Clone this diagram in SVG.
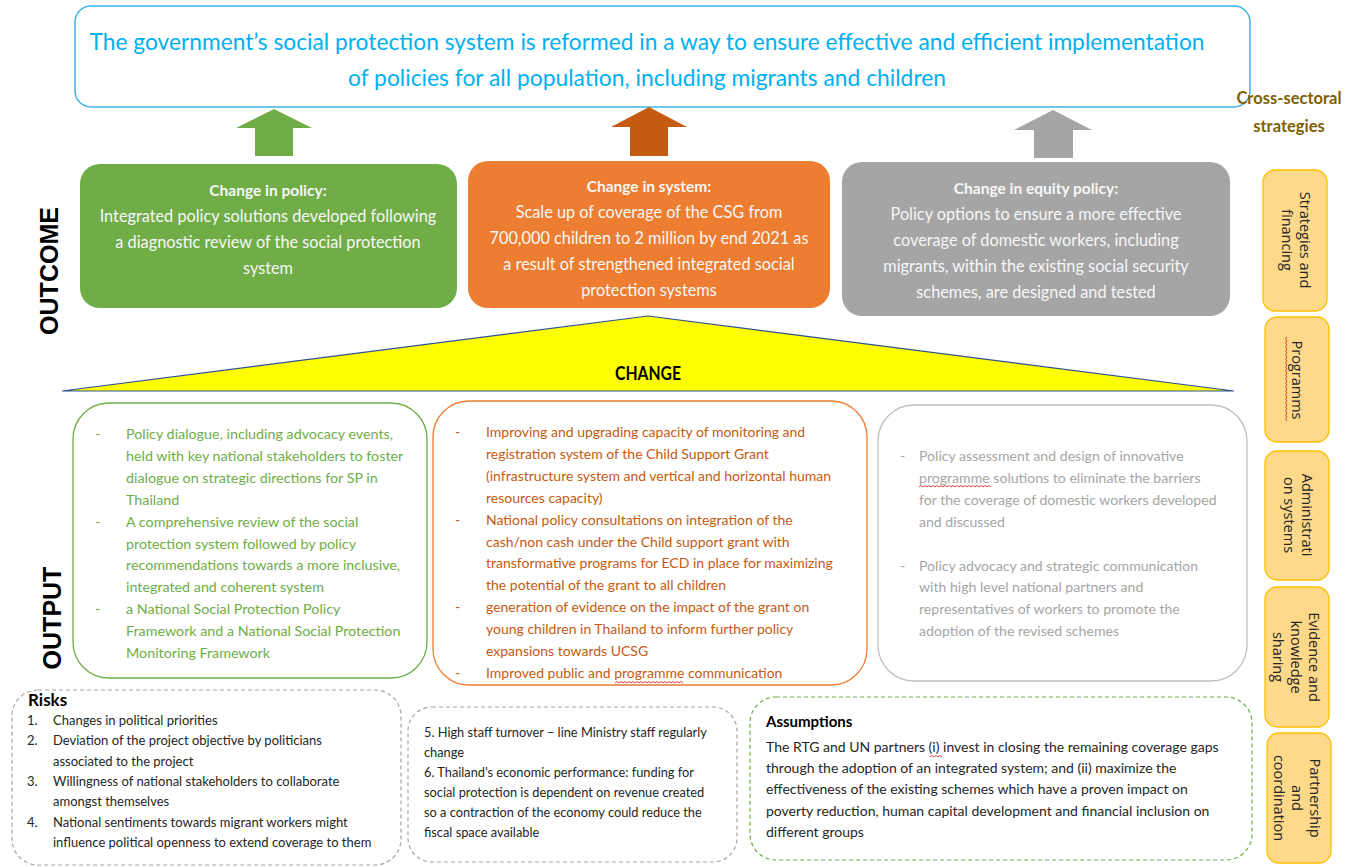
<svg xmlns="http://www.w3.org/2000/svg" width="1360" height="867" viewBox="0 0 1360 867">
<defs>
<style>
text{font-family:Lato,"Liberation Sans",sans-serif;}
.title{font-size:24px;fill:#00b0f0;text-anchor:middle;}
.oc{font-size:16.3px;fill:#f7f7f7;text-anchor:middle;}
.och{font-size:15.5px;font-weight:bold;fill:#f7f7f7;text-anchor:middle;}
.vlab{font-family:"Liberation Sans",Arial,sans-serif;font-size:25px;font-weight:bold;fill:#000;text-anchor:middle;}
.og{font-size:14.3px;fill:#70ad47;}
.oo{font-size:14px;fill:#c55a11;}
.oy{font-size:14.1px;fill:#a6a6a6;}
.rk{font-size:13px;fill:#262626;}
.rk2{font-size:12.8px;fill:#262626;}
.as{font-size:14px;fill:#262626;}
.ah{font-size:15px;font-weight:bold;fill:#000;}
.rh{font-size:17px;font-weight:bold;fill:#000;}
.cs{font-size:16.5px;font-weight:bold;fill:#7f6000;text-anchor:middle;}
.sb{fill:#ffd98a;stroke:#ffc000;stroke-width:1.3;}
.st{font-family:"Open Sans","Liberation Sans",sans-serif;font-size:14.5px;fill:#262626;text-anchor:middle;}
.dash{fill:none;stroke:#a6a6a6;stroke-width:1.2;stroke-dasharray:4 3;}
.squig{fill:none;stroke:#e03030;stroke-width:0.9;}
</style>
</defs>

<g id="goal">
<rect x="75" y="6" width="1175" height="101" rx="16" fill="#fff" stroke="#3cb4e8" stroke-width="1.5"/>
<text class="title" x="647" y="50" textLength="1115" lengthAdjust="spacingAndGlyphs">The government’s social protection system is reformed in a way to ensure effective and efficient implementation</text>
<text class="title" x="647" y="86" textLength="598" lengthAdjust="spacingAndGlyphs">of policies for all population, including migrants and children</text>
</g>

<g id="connectors">
<polygon points="274,109 312,128 293,128 293,156 255,156 255,128 236,128" fill="#70ad47"/>
<polygon points="649,107 687,127 668,127 668,156 630,156 630,127 611,127" fill="#c55a11"/>
<polygon points="1053,110 1092,130 1073,130 1073,158 1034,158 1034,130 1014,130" fill="#a5a5a5"/>
</g>

<g id="label-outcome">
<text class="vlab" transform="translate(58,271) rotate(-90)">OUTCOME</text>
</g>
<g id="label-output">
<text class="vlab" transform="translate(61,618) rotate(-90)">OUTPUT</text>
</g>

<g id="outcome-policy">
<rect x="80" y="164" width="377" height="144" rx="20" fill="#70ad47"/>
<text class="och" x="268" y="196">Change in policy:</text>
<text class="oc" x="268" y="222">Integrated policy solutions developed following</text>
<text class="oc" x="268" y="248">a diagnostic review of the social protection</text>
<text class="oc" x="268" y="274">system</text>
</g>

<g id="outcome-system">
<rect x="468" y="161" width="362" height="147" rx="20" fill="#ed7d31"/>
<text class="och" x="649" y="192">Change in system:</text>
<text class="oc" x="649" y="218">Scale up of coverage of the CSG from</text>
<text class="oc" x="649" y="244">700,000 children to 2 million by end 2021 as</text>
<text class="oc" x="649" y="270">a result of strengthened integrated social</text>
<text class="oc" x="649" y="296">protection systems</text>
</g>

<g id="outcome-equity">
<rect x="842" y="162" width="388" height="154" rx="20" fill="#a5a5a5"/>
<text class="och" x="1036" y="194">Change in equity policy:</text>
<text class="oc" x="1036" y="220">Policy options to ensure a more effective</text>
<text class="oc" x="1036" y="246">coverage of domestic workers, including</text>
<text class="oc" x="1036" y="272">migrants, within the existing social security</text>
<text class="oc" x="1036" y="298">schemes, are designed and tested</text>
</g>

<g id="change">
<polygon points="62,391 648,316 1234,391" fill="#ffff00" stroke="#2f528f" stroke-width="1.2"/>
<text x="648" y="380" font-family="'Liberation Sans',Arial,sans-serif" font-size="19" font-weight="bold" text-anchor="middle" textLength="66" lengthAdjust="spacingAndGlyphs">CHANGE</text>
</g>

<g id="output-policy">
<rect x="73" y="403" width="354" height="275" rx="36" fill="none" stroke="#70ad47" stroke-width="1.3"/>
<text class="og" x="95" y="439">-</text>
<text class="og" x="95" y="526.6">-</text>
<text class="og" x="95" y="614.2">-</text>
<text class="og" x="126" y="439">Policy dialogue, including advocacy events,</text>
<text class="og" x="126" y="460.9">held with key national stakeholders to foster</text>
<text class="og" x="126" y="482.8">dialogue on strategic directions for SP in</text>
<text class="og" x="126" y="504.7">Thailand</text>
<text class="og" x="126" y="526.6">A comprehensive review of the social</text>
<text class="og" x="126" y="548.5">protection system followed by policy</text>
<text class="og" x="126" y="570.4">recommendations towards a more inclusive,</text>
<text class="og" x="126" y="592.3">integrated and coherent system</text>
<text class="og" x="126" y="614.2">a National Social Protection Policy</text>
<text class="og" x="126" y="636.1">Framework and a National Social Protection</text>
<text class="og" x="126" y="658">Monitoring Framework</text>
</g>

<g id="output-system">
<rect x="433" y="401" width="434" height="284" rx="36" fill="none" stroke="#ed7d31" stroke-width="1.3"/>
<text class="oo" x="455" y="437">-</text>
<text class="oo" x="455" y="524.6">-</text>
<text class="oo" x="455" y="612.2">-</text>
<text class="oo" x="455" y="677.9">-</text>
<text class="oo" x="486" y="437">Improving and upgrading capacity of monitoring and</text>
<text class="oo" x="486" y="458.9">registration system of the Child Support Grant</text>
<text class="oo" x="486" y="480.8">(infrastructure system and vertical and horizontal human</text>
<text class="oo" x="486" y="502.7">resources capacity)</text>
<text class="oo" x="486" y="524.6">National policy consultations on integration of the</text>
<text class="oo" x="486" y="546.5">cash/non cash under the Child support grant with</text>
<text class="oo" x="486" y="568.4">transformative programs for ECD in place for maximizing</text>
<text class="oo" x="486" y="590.3">the potential of the grant to all children</text>
<text class="oo" x="486" y="612.2">generation of evidence on the impact of the grant on</text>
<text class="oo" x="486" y="634.1">young children in Thailand to inform further policy</text>
<text class="oo" x="486" y="656">expansions towards UCSG</text>
<text class="oo" x="486" y="677.9">Improved public and programme communication</text>
<path class="squig" d="M615 683 l2 -1.5 l2 1.5 l2 -1.5 l2 1.5 l2 -1.5 l2 1.5 l2 -1.5 l2 1.5 l2 -1.5 l2 1.5 l2 -1.5 l2 1.5 l2 -1.5 l2 1.5 l2 -1.5 l2 1.5 l2 -1.5 l2 1.5 l2 -1.5 l2 1.5 l2 -1.5 l2 1.5 l2 -1.5 l2 1.5 l2 -1.5 l2 1.5 l2 -1.5 l2 1.5 l2 -1.5 l2 1.5 l2 -1.5 l2 1.5 l2 -1.5 l2 1.5"/>
</g>

<g id="output-equity">
<rect x="878" y="405" width="369" height="276" rx="36" fill="none" stroke="#bfbfbf" stroke-width="1.3"/>
<text class="oy" x="900" y="461">-</text>
<text class="oy" x="900" y="570.5">-</text>
<text class="oy" x="919" y="461">Policy assessment and design of innovative</text>
<text class="oy" x="919" y="482.9">programme solutions to eliminate the barriers</text>
<text class="oy" x="919" y="504.8">for the coverage of domestic workers developed</text>
<text class="oy" x="919" y="526.7">and discussed</text>
<text class="oy" x="919" y="570.5">Policy advocacy and strategic communication</text>
<text class="oy" x="919" y="592.4">with high level national partners and</text>
<text class="oy" x="919" y="614.3">representatives of workers to promote the</text>
<text class="oy" x="919" y="636.2">adoption of the revised schemes</text>
<path class="squig" d="M919 487 l2 -1.5 l2 1.5 l2 -1.5 l2 1.5 l2 -1.5 l2 1.5 l2 -1.5 l2 1.5 l2 -1.5 l2 1.5 l2 -1.5 l2 1.5 l2 -1.5 l2 1.5 l2 -1.5 l2 1.5 l2 -1.5 l2 1.5 l2 -1.5 l2 1.5 l2 -1.5 l2 1.5 l2 -1.5 l2 1.5 l2 -1.5 l2 1.5 l2 -1.5 l2 1.5 l2 -1.5 l2 1.5 l2 -1.5 l2 1.5 l2 -1.5 l2 1.5 l2 -1.5 l2 1.5"/>
</g>

<g id="risks">
<rect class="dash" x="12" y="690" width="389" height="175" rx="26"/>
<text class="rh" x="28" y="706">Risks</text>
<text class="rk" x="27" y="725">1.</text>
<text class="rk" x="27" y="745.3">2.</text>
<text class="rk" x="27" y="786">3.</text>
<text class="rk" x="27" y="826.5">4.</text>
<text class="rk" x="53" y="725">Changes in political priorities</text>
<text class="rk" x="53" y="745.3">Deviation of the project objective by politicians</text>
<text class="rk" x="53" y="765.6">associated to the project</text>
<text class="rk" x="53" y="786">Willingness of national stakeholders to collaborate</text>
<text class="rk" x="53" y="806.2">amongst themselves</text>
<text class="rk" x="53" y="826.5">National sentiments towards migrant workers might</text>
<text class="rk" x="53" y="846.8">influence political openness to extend coverage to them</text>
</g>

<g id="risks-continued">
<rect class="dash" x="408" y="707" width="329" height="155" rx="24"/>
<text class="rk2" x="424" y="737">5. High staff turnover – line Ministry staff regularly</text>
<text class="rk2" x="424" y="757">change</text>
<text class="rk2" x="424" y="777">6. Thailand’s economic performance: funding for</text>
<text class="rk2" x="424" y="797">social protection is dependent on revenue created</text>
<text class="rk2" x="424" y="817">so a contraction of the economy could reduce the</text>
<text class="rk2" x="424" y="837">fiscal space available</text>
</g>

<g id="assumptions">
<rect x="750" y="697" width="502" height="163" rx="26" fill="none" stroke="#70ad47" stroke-width="1.2" stroke-dasharray="4 3"/>
<text class="ah" x="766" y="727">Assumptions</text>
<text class="as" x="766" y="752">The RTG and UN partners (i) invest in closing the remaining coverage gaps</text>
<text class="as" x="766" y="773">through the adoption of an integrated system; and (ii) maximize the</text>
<text class="as" x="766" y="794">effectiveness of the existing schemes which have a proven impact on</text>
<text class="as" x="766" y="816">poverty reduction, human capital development and financial inclusion on</text>
<text class="as" x="766" y="837">different groups</text>
<path class="squig" d="M930 757 l2 -1.5 l2 1.5 l2 -1.5 l2 1.5 l2 -1.5 l2 1.5"/>
</g>

<g id="cross-sectoral">
<text class="cs" x="1289" y="104">Cross-sectoral</text>
<text class="cs" x="1289" y="132">strategies</text>
</g>

<g id="strategy-financing">
<rect class="sb" x="1263" y="170" width="64" height="141" rx="12"/>
<text class="st" transform="translate(1300,240) rotate(90)"><tspan x="0" y="0">Strategies and</tspan><tspan x="0" y="18">financing</tspan></text>
</g>
<g id="strategy-programms">
<rect class="sb" x="1265" y="317" width="64" height="125" rx="12"/>
<text class="st" transform="translate(1292,380) rotate(90)">Programms</text>
<path class="squig" d="M1287 337 l-1.5 2 l1.5 2 l-1.5 2 l1.5 2 l-1.5 2 l1.5 2 l-1.5 2 l1.5 2 l-1.5 2 l1.5 2 l-1.5 2 l1.5 2 l-1.5 2 l1.5 2 l-1.5 2 l1.5 2 l-1.5 2 l1.5 2 l-1.5 2 l1.5 2 l-1.5 2 l1.5 2 l-1.5 2 l1.5 2 l-1.5 2 l1.5 2 l-1.5 2 l1.5 2 l-1.5 2 l1.5 2 l-1.5 2 l1.5 2 l-1.5 2 l1.5 2 l-1.5 2 l1.5 2 l-1.5 2 l1.5 2 l-1.5 2 l1.5 2 l-1.5 2 l1.5 2"/>
</g>
<g id="strategy-administration">
<rect class="sb" x="1265" y="451" width="64" height="129" rx="12"/>
<text class="st" transform="translate(1302,515) rotate(90)"><tspan x="0" y="0">Administrati</tspan><tspan x="0" y="18">on systems</tspan></text>
</g>
<g id="strategy-evidence">
<rect class="sb" x="1265" y="587" width="64" height="140" rx="12"/>
<text class="st" transform="translate(1309,657) rotate(90)"><tspan x="0" y="0">Evidence and</tspan><tspan x="0" y="18">knowledge</tspan><tspan x="0" y="36">sharing</tspan></text>
</g>
<g id="strategy-partnership">
<rect class="sb" x="1267" y="733" width="64" height="130" rx="12"/>
<text class="st" transform="translate(1310,798) rotate(90)"><tspan x="0" y="0">Partnership</tspan><tspan x="0" y="18">and</tspan><tspan x="0" y="36">coordination</tspan></text>
</g>
</svg>
